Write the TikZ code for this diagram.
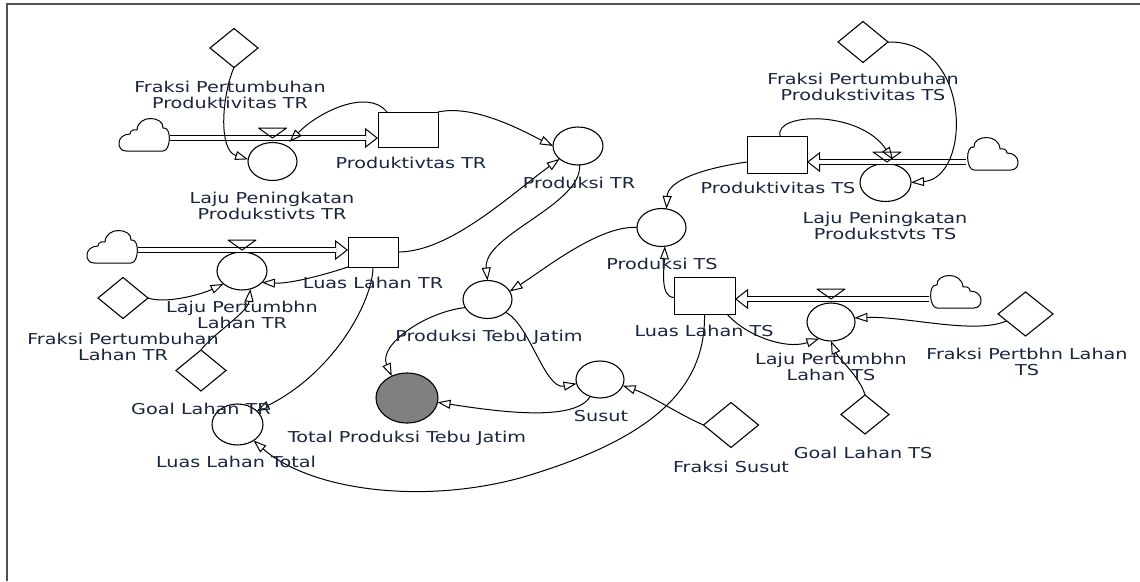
\documentclass[tikz,border=0pt]{standalone}
\usepackage{fontspec}
\setmainfont{DejaVu Sans}[FakeStretch=1.28]
\usetikzlibrary{shapes.geometric,arrows.meta}
\definecolor{labelcol}{HTML}{1B2540}
\definecolor{framecol}{HTML}{505050}
\definecolor{levelfill}{HTML}{808080}
\tikzset{
  aux/.style={ellipse, draw, line width=1.1pt, minimum width=49pt, minimum height=38pt, inner sep=0pt, outer sep=0pt},
  const/.style={diamond, draw, line width=1.1pt, minimum width=50pt, minimum height=41pt, inner sep=0pt, outer sep=0pt},
  stock/.style={rectangle, draw, line width=0.9pt, inner sep=0pt, outer sep=0pt},
  lbl/.style={text=labelcol, font=\fontsize{15}{16}\selectfont, align=center, inner sep=0pt},
  link/.style={line width=1pt, -{Triangle[open, length=13pt, width=9pt]}},
  pipe/.style={double, double distance=3.2pt, line width=1pt},
  pipehead/.style={line width=1pt, -{Triangle[open, length=13pt, width=20pt]}},
  valve/.style={draw, line width=1pt, line join=round},
  cloudpic/.pic={
    \draw[line width=1pt, line join=round]
      (-44,13) -- (-7,13)
      .. controls (1,13) and (2,-12) .. (-7,-10)
      .. controls (-6,-22) and (-32,-24) .. (-33,-8)
      .. controls (-37,-9) and (-40,-7) .. (-40,-4)
      .. controls (-54,-4) and (-54,13) .. (-44,13) -- cycle;
  }
}
\begin{document}
\begin{tikzpicture}[x=1pt,y=-1pt]
\useasboundingbox (0,0) rectangle (1140,581);
\fill[white] (0,0) rectangle (1140,581);
\draw[framecol, line width=2pt] (7,581) -- (7,4) -- (1140,4);

% ---------- sources (clouds) and their pipe ends ----------
\pic at (170,138) {cloudpic};
\coordinate (jTR1) at (170,138);
\pic at (138,250) {cloudpic};
\coordinate (jTR2) at (138,250);
\pic[xscale=-1] at (967,157) {cloudpic};
\coordinate (jTS1) at (966,162);
\pic[xscale=-1] at (930,295) {cloudpic};
\coordinate (jTS2) at (929,299);

% ---------- stocks ----------
\node[stock, minimum width=60pt, minimum height=35pt] (pTR) at (408,129.5) {};
\node[stock, minimum width=50pt, minimum height=30pt] (lTR) at (373,252) {};
\node[stock, minimum width=60pt, minimum height=37pt] (pTS) at (777,154.5) {};
\node[stock, minimum width=61pt, minimum height=37pt] (lTS) at (704.5,295.5) {};

% ---------- rates and auxiliaries ----------
\node[aux] (lpTR) at (272.5,161.5) {};
\node[aux, minimum width=50pt] (lpTR2) at (242,271) {};
\node[aux, minimum width=50pt] (pdTR) at (578,146) {};
\node[aux] (ptj) at (487.5,299.5) {};
\node[aux] (pdTS) at (661.5,227.5) {};
\node[aux, minimum width=51pt] (lpPTS) at (885.5,182.5) {};
\node[aux, minimum width=48pt] (lpTS) at (831,322) {};
\node[aux, minimum width=48pt, minimum height=37pt] (sus) at (600,379.5) {};
\node[aux, minimum width=51pt, minimum height=41pt] (LLT) at (237.5,424.5) {};
\node[aux, fill=levelfill, minimum width=62pt, minimum height=50pt] (tptj) at (407,398) {};

% ---------- constants ----------
\node[const, minimum width=48pt, minimum height=39pt] (fpTR) at (234,48) {};
\node[const] (fpLTR) at (123,298) {};
\node[const] (gLTR) at (201,370.5) {};
\node[const] (fpTS) at (863,42) {};
\node[const, minimum width=55pt, minimum height=44pt] (fpLTS) at (1025.5,314) {};
\node[const, minimum width=48pt, minimum height=39pt] (gLTS) at (865,414.5) {};
\node[const, minimum width=55pt, minimum height=45pt] (fs) at (731,425) {};

% ---------- flows ----------
\draw[pipehead] (jTR1) -- (pTR.west |- jTR1);
\draw[pipe, shorten >=12pt] (jTR1) -- (pTR.west |- jTR1);
\draw[pipehead] (jTR2) -- (lTR.west |- jTR2);
\draw[pipe, shorten >=12pt] (jTR2) -- (lTR.west |- jTR2);
\draw[pipehead] (jTS1) -- (pTS.east |- jTS1);
\draw[pipe, shorten >=12pt] (jTS1) -- (pTS.east |- jTS1);
\draw[pipehead] (jTS2) -- (lTS.east |- jTS2);
\draw[pipe, shorten >=12pt] (jTS2) -- (lTS.east |- jTS2);

% valves sitting on the pipes above each rate
\coordinate (vTR1) at (lpTR.north |- jTR1);
\coordinate (vTR2) at (lpTR2.north |- jTR2);
\coordinate (vTS1) at ([xshift=1.5pt]lpPTS.north |- jTS1);
\coordinate (vTS2) at (lpTS.north |- jTS2);
\foreach \v in {vTR1,vTR2,vTS1,vTS2}
  \draw[valve] (\v) -- ++(-14,-10) -- ++(28,0) -- cycle;

% ---------- information links ----------
\draw[link] (fpTR.south) .. controls (222,95) and (218,150) .. (lpTR.175);
\draw[link] ([xshift=9pt]pTR.north west) .. controls (368,88) and (318,112) .. ([xshift=17pt,yshift=-4pt]vTR1);
\draw[link] (pTR.north east) .. controls (475,104) and (525,132) .. (pdTR.west);
\draw[link] (lTR.east) .. controls (450,252) and (510,195) .. (pdTR.215);
\draw[link] (pdTR.275) .. controls (582,205) and (483,235) .. (ptj.north);
\draw[link] (pdTS.west) .. controls (600,225) and (546,268) .. (ptj.20);
\draw[link] ([yshift=-7.5pt]pTS.west) .. controls (705,168) and (668,180) .. (pdTS.75);
\draw[link] ([yshift=-2pt]lTS.west) .. controls (660,297) and (664,270) .. (pdTS.280);
\draw[link] (lTR.south west) .. controls (330,273) and (292,284) .. (lpTR2.330);
\draw[link] (fpLTR.east) .. controls (165,304) and (200,295) .. (lpTR2.215);
\draw[link] (gLTR.north) .. controls (212,335) and (248,312) .. (lpTR2.295);
\draw[link] (lTR.south) .. controls (373,300) and (335,372) .. (LLT.35);
\draw[link] (lTS.south) .. controls (706,390) and (650,440) .. (520,478)
            .. controls (420,505) and (310,490) .. (LLT.-45);
\draw[link] (ptj.200) .. controls (425,312) and (378,345) .. (tptj.125);
\draw[link] (ptj.-35) .. controls (530,325) and (545,390) .. (sus.190);
\draw[link] (sus.240) .. controls (575,422) and (500,412) .. (tptj.-8);
\draw[link] (fs.west) .. controls (680,415) and (650,395) .. (sus.-15);
\draw[link] ([xshift=-8pt]lTS.south east) .. controls (745,335) and (785,350) .. (lpTS.235);
\draw[link] (fpLTS.200) .. controls (975,335) and (905,316) .. (lpTS.10);
\draw[link] (gLTS.north) .. controls (860,377) and (838,358) .. (lpTS.south);
\draw[link] (fpTS.east) .. controls (972,40) and (972,178) .. (lpPTS.east);
\draw[link] ([xshift=3pt]pTS.north) .. controls (774,112) and (860,110) .. ([xshift=6pt,yshift=2pt]vTS1);

% ---------- labels ----------
\node[lbl] (tfpTR) at (230,95) {Fraksi Pertumbuhan\\Produktivitas TR};
\node[lbl] (tlpTR) at (272,206) {Laju Peningkatan\\Produkstivts TR};
\node[lbl] (tpTR) at (411,163) {Produktivtas TR};
\node[lbl] (tpdTR) at (579,183) {Produksi TR};
\node[lbl] (tlTR) at (373,283) {Luas Lahan TR};
\node[lbl] (tlpTR2) at (242,315) {Laju Pertumbhn\\Lahan TR};
\node[lbl] (tfpLTR) at (123,347) {Fraksi Pertumbuhan\\Lahan TR};
\node[lbl] (tgLTR) at (201,409) {Goal Lahan TR};
\node[lbl] (tLLT) at (236,462) {Luas Lahan Total};
\node[lbl] (ttptj) at (407,438) {Total Produksi Tebu Jatim};
\node[lbl] (tptj) at (489,337) {Produksi Tebu Jatim};
\node[lbl] (tsus) at (601,416) {Susut};
\node[lbl] (tpdTS) at (662,264) {Produksi TS};
\node[lbl] (tpTS) at (778,188) {Produktivitas TS};
\node[lbl] (tfpTS) at (863,87) {Fraksi Pertumbuhan\\Produkstivitas TS};
\node[lbl] (tlpPTS) at (885,226) {Laju Peningkatan\\Produkstvts TS};
\node[lbl] (tlTS) at (704,331) {Luas Lahan TS};
\node[lbl] (tlpTS) at (831,367) {Laju Pertumbhn\\Lahan TS};
\node[lbl] (tfpLTS) at (1027,362) {Fraksi Pertbhn Lahan\\TS};
\node[lbl] (tgLTS) at (863,453) {Goal Lahan TS};
\node[lbl] (tfs) at (731,467) {Fraksi Susut};
\end{tikzpicture}
\end{document}
